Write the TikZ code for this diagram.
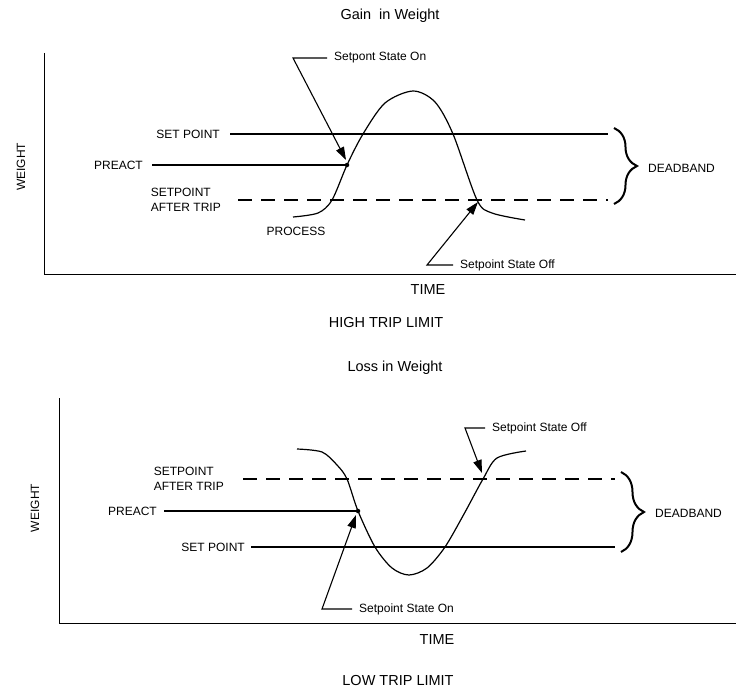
\documentclass[tikz,border=0pt]{standalone}
\usepackage{fontspec}
\setmainfont{Liberation Sans}
\usetikzlibrary{arrows.meta,positioning,decorations.pathreplacing}

\begin{document}
\begin{tikzpicture}[
  x=1pt, y=-1pt,
  font=\fontsize{12}{15}\selectfont,
  lbl/.style={inner sep=2pt, align=left},
  callout/.style={lbl, inner xsep=7pt},
  title/.style={inner sep=2pt, font=\fontsize{14.5}{17}\selectfont},
  level/.style={line width=1.1pt},
  trip/.style={level, dash pattern=on 14pt off 9pt},
  curve/.style={line width=1.2pt, line join=round},
  axisline/.style={line width=0.9pt},
  pointer/.style={line width=1.1pt, -{Triangle[length=13pt, width=8.5pt]}},
  band/.style={line width=2pt, decorate, decoration={brace, amplitude=23pt}},
  dot/.style={circle, fill, inner sep=0pt, minimum size=4.5pt},
]
\useasboundingbox (0,0) rectangle (736,690);

% ---- gain in weight -----------------------------------------------------
\node[title] (gaintitle) at (390,16) {Gain~ in Weight};
\coordinate (htop) at (44.6,53);
\coordinate (hend) at (736,274);
\draw[axisline] (htop) |- (hend);
\node[lbl, rotate=90] (hweight) at (21,167) {WEIGHT};
\node[title] (htime)  at (428,290) {TIME};
\node[title] (hlimit) at (386,323) {HIGH TRIP LIMIT};

\coordinate (hset0) at (230,134);
\coordinate (hset1) at (608,134);
\draw[level] (hset0) -- (hset1);
\node[lbl, left=8pt of hset0] (hsetlbl) {SET POINT};

\coordinate (hpre0) at (152,165);
\node[dot] (hpredot) at (347,165) {};
\draw[level] (hpre0) -- (hpredot);
\node[lbl, left=7pt of hpre0] (hprelbl) {PREACT};

\coordinate (htrip0) at (238,200);
\coordinate (htrip1) at (608,200);
\draw[trip] (htrip0) -- (htrip1);
\node[lbl, left=15pt of htrip0] (htriplbl) {SETPOINT\\AFTER TRIP};

\draw[curve] plot[smooth] coordinates {(293,217) (318,213) (332,200)
  (347,165) (363,134) (385,103) (413,91) (435,102) (453,134) (477,200)
  (492,213) (525,220)};
\node[lbl] (hprocess) at (296,231) {PROCESS};

\node[callout, anchor=west] (honlbl) at (327,58) {Setpont State On};
\coordinate (hon1) at (293,58);
\coordinate (hontip) at (346,160);
\draw[pointer] (honlbl.west) -- (hon1) -- (hontip);

\node[callout, anchor=west] (hofflbl) at (453,265) {Setpoint State Off};
\coordinate (hoff1) at (427,265);
\coordinate (hofftip) at (478,202);
\draw[pointer] (hofflbl.west) -- (hoff1) -- (hofftip);

\coordinate (hband0) at (614,128);
\coordinate (hband1) at (614,204);
\draw[band] (hband0) -- (hband1);
\node[lbl, anchor=west] (hdead) at (646,168) {DEADBAND};

% ---- loss in weight -----------------------------------------------------
\node[title] (losstitle) at (395,368) {Loss in Weight};
\coordinate (ltop) at (59,398);
\coordinate (lend) at (736,623);
\draw[axisline] (ltop) |- (lend);
\node[lbl, rotate=90] (lweight) at (35,508) {WEIGHT};
\node[title] (ltime)  at (437,640) {TIME};
\node[title] (llimit) at (398,681) {LOW TRIP LIMIT};

\coordinate (ltrip0) at (243,479);
\coordinate (ltrip1) at (615,479);
\draw[trip] (ltrip0) -- (ltrip1);
\node[lbl, left=17pt of ltrip0] (ltriplbl) {SETPOINT\\AFTER TRIP};

\coordinate (lpre0) at (164,511);
\node[dot] (lpredot) at (358,511) {};
\draw[level] (lpre0) -- (lpredot);
\node[lbl, left=5pt of lpre0] (lprelbl) {PREACT};

\coordinate (lset0) at (251,547);
\coordinate (lset1) at (615,547);
\draw[level] (lset0) -- (lset1);
\node[lbl, left=4pt of lset0] (lsetlbl) {SET POINT};

\draw[curve] plot[smooth] coordinates {(297,449) (322,452) (337,465)
  (347,479) (358,511) (375,547) (392,568) (409,575) (427,568) (445,547)
  (464,514) (483,479) (497,458) (526,451)};

\node[callout, anchor=west] (lofflbl) at (485,428) {Setpoint State Off};
\coordinate (loff1) at (465,428);
\coordinate (lofftip) at (482,473);
\draw[pointer] (lofflbl.west) -- (loff1) -- (lofftip);

\node[callout, anchor=west] (lonlbl) at (352,609) {Setpoint State On};
\coordinate (lon1) at (322,609);
\coordinate (lontip) at (356,515);
\draw[pointer] (lonlbl.west) -- (lon1) -- (lontip);

\coordinate (lband0) at (621,472);
\coordinate (lband1) at (621,552);
\draw[band] (lband0) -- (lband1);
\node[lbl, anchor=west] (ldead) at (653,513) {DEADBAND};

\end{tikzpicture}
\end{document}
